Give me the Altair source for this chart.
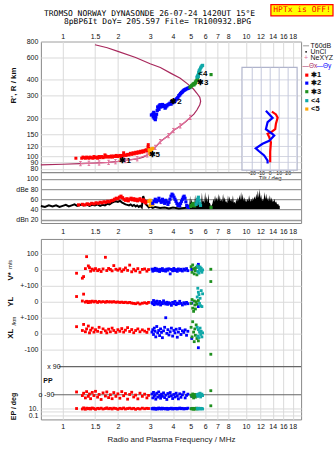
import altair as alt
import pandas as pd

# ---------------- data ----------------
FREQ_TICKS = [1, 1.5, 2, 3, 4, 5, 6, 7, 8, 10, 12, 14, 16, 18]
RANGE_TICKS = [80, 90, 100, 120, 150, 200, 300, 400, 600, 800]
DB_TICKS = [20, 40, 60, 80, 100]
TILT_TICKS = [-20, -10, 0, 10, 20]

TITLE1 = "TROMSO NORWAY   DYNASONDE 26-07-24 1420UT 15°E"
TITLE2 = "8pBP6It DoY= 205.597 File= TR100932.BPG"

# plasma-frequency profile (f MHz, height km)
PROFILE = [(0.76, 86), (1.0, 87), (1.25, 88), (1.5, 89), (1.78, 90), (2.0, 91.5), (2.3, 94),
           (2.55, 96), (2.75, 99), (2.89, 103), (3.05, 110), (3.2, 118), (3.41, 131), (3.6, 139),
           (3.78, 146), (4.02, 160), (4.2, 167), (4.38, 174), (4.7, 188), (4.97, 203), (5.2, 215),
           (5.4, 232), (5.6, 255), (5.66, 272), (5.6, 292), (5.4, 314), (5.17, 339), (4.8, 372),
           (4.38, 412), (3.9, 450), (3.41, 500), (3.0, 535), (2.5, 600), (2.0, 670), (1.75, 715),
           (1.5, 755)]
NEXYZ = [(1.25, 88), (1.39, 88.5), (1.58, 89), (1.78, 90), (1.94, 91), (2.2, 93), (2.55, 96),
         (2.89, 103), (3.2, 118), (3.41, 131), (3.78, 146), (4.02, 160), (4.38, 174), (4.97, 203)]

X1 = [(1.18, 97), (1.27, 97), (1.29, 99), (1.31, 98), (1.33, 97), (1.35, 99), (1.37, 98), (1.39, 97),
      (1.41, 99), (1.43, 98), (1.46, 97), (1.48, 100), (1.50, 98), (1.53, 99), (1.55, 97), (1.58, 100),
      (1.60, 98), (1.63, 100), (1.66, 98), (1.69, 99), (1.72, 101), (1.75, 99), (1.78, 100), (1.81, 99),
      (1.84, 101), (1.87, 99), (1.90, 101), (1.93, 100), (1.96, 102), (1.99, 100), (2.02, 101),
      (2.05, 102), (2.08, 100), (2.11, 102), (2.14, 101), (2.18, 103), (2.22, 102), (2.26, 104),
      (2.30, 103), (2.34, 106), (2.38, 104), (2.42, 107), (2.46, 105), (2.50, 108), (2.54, 106),
      (2.58, 109), (2.62, 107), (2.66, 110), (2.70, 108), (2.74, 111), (2.78, 109), (2.82, 112),
      (2.86, 113), (2.90, 111), (2.92, 119), (2.95, 116), (2.93, 124), (2.15, 107), (1.70, 103)]
X2 = [(3.05, 212), (3.10, 215), (3.12, 205), (3.14, 222), (3.16, 200), (3.18, 210), (3.20, 195),
      (3.22, 205), (3.25, 215), (3.28, 230), (3.30, 245), (3.33, 240), (3.35, 235), (3.36, 250),
      (3.40, 255), (3.43, 245), (3.46, 250), (3.50, 256), (3.55, 248), (3.60, 252), (3.62, 240),
      (3.65, 245), (3.70, 250), (3.75, 255), (3.80, 258), (3.85, 262), (3.90, 258), (3.92, 270),
      (3.95, 265), (4.00, 270), (4.05, 268), (4.10, 275), (4.15, 280), (4.20, 285), (4.25, 290),
      (4.30, 300), (4.35, 305), (4.40, 312), (4.45, 318), (4.50, 322), (4.55, 328), (4.60, 332),
      (4.65, 335), (4.70, 338), (4.78, 342), (4.85, 345), (4.92, 348)]
X3 = [(4.95, 350), (5.00, 355), (5.05, 360), (5.10, 365), (5.15, 370), (5.20, 365), (5.20, 375),
      (5.25, 372), (5.30, 378), (5.30, 385), (5.35, 392), (5.40, 398), (5.45, 405), (6.45, 440)]
X4 = [(5.40, 420), (5.45, 430), (5.50, 425), (5.50, 440), (5.52, 455), (5.55, 470), (5.60, 460),
      (5.60, 480), (5.65, 495), (5.70, 505), (5.75, 515), (5.80, 520)]
X5 = [(2.96, 113), (2.98, 108), (3.00, 104), (3.02, 112), (3.05, 110), (3.06, 115), (3.10, 116)]

MODE_LABELS = [("✱1", 2.04, 93), ("✱2", 3.86, 267), ("✱3", 5.40, 381), ("<4", 5.50, 444), ("✱5", 2.94, 103)]

# tilt inset (tilt deg, height km)
TILT_X = [(1.9, 225), (6.4, 214), (8.3, 202), (6.4, 181), (5.6, 164), (0.8, 155), (-2.9, 151),
          (-1.1, 142), (0.8, 129), (0.0, 109), (0.0, 90)]
TILT_Y = [(-4.8, 229), (2.7, 201), (-2.9, 186), (-4.8, 164), (2.7, 150), (4.5, 146), (-1.1, 133),
          (-8.5, 126), (-16.1, 116), (-12.4, 110), (-6.7, 102), (-2.9, 93), (-2.9, 88)]

# amplitude panel (f MHz, dB)
DB_LINE = [(0.76, 47), (0.80, 45), (0.84, 48), (0.88, 46), (0.92, 48), (0.96, 45), (1.00, 47),
           (1.04, 49), (1.08, 46), (1.12, 48), (1.16, 50), (1.20, 47), (1.25, 49), (1.30, 48),
           (1.35, 50), (1.40, 47), (1.45, 49), (1.50, 48), (1.55, 50), (1.60, 47), (1.65, 49),
           (1.70, 48), (1.75, 51), (1.80, 50), (1.85, 53), (1.90, 55), (1.95, 56), (2.00, 55),
           (2.05, 57), (2.10, 54), (2.15, 52), (2.20, 50), (2.25, 49), (2.30, 48), (2.35, 50),
           (2.40, 47), (2.45, 49), (2.50, 46), (2.55, 48), (2.60, 45), (2.65, 47), (2.70, 44),
           (2.75, 66), (2.80, 58), (2.85, 50), (2.90, 47), (2.95, 44), (3.00, 46), (3.10, 43),
           (3.20, 45), (3.40, 43), (3.60, 44), (3.80, 42), (4.00, 44), (4.30, 42), (4.60, 43),
           (4.90, 44)]
DB_FLOOR = 41
DB_BARS = [(4.86, 51), (4.90, 47), (4.96, 67), (5.00, 52), (5.06, 61), (5.10, 50), (5.17, 53),
           (5.22, 47), (5.28, 69), (5.33, 52), (5.40, 58), (5.45, 49), (5.50, 64), (5.56, 51),
           (5.63, 55), (5.69, 50), (5.75, 73), (5.80, 55), (5.86, 58), (5.92, 52), (5.99, 74),
           (6.05, 56), (6.11, 66), (6.17, 54), (6.24, 71), (6.30, 53), (6.37, 52), (6.43, 47),
           (6.50, 48), (6.57, 52), (6.64, 61), (6.71, 55), (6.78, 68), (6.85, 57), (6.92, 64),
           (6.99, 56), (7.06, 71), (7.13, 57), (7.20, 68), (7.27, 56), (7.35, 60), (7.42, 55),
           (7.50, 71), (7.58, 57), (7.66, 64), (7.74, 55), (7.82, 56), (7.90, 52), (7.98, 68),
           (8.06, 56), (8.15, 66), (8.23, 56), (8.32, 61), (8.40, 54), (8.49, 68), (8.58, 53),
           (8.67, 55), (8.76, 51), (8.85, 60), (8.94, 55), (9.03, 64), (9.12, 57), (9.22, 69),
           (9.31, 58), (9.41, 74), (9.50, 59), (9.60, 71), (9.70, 57), (9.80, 64), (9.90, 55),
           (10.0, 60), (10.1, 54), (10.2, 61), (10.3, 56), (10.4, 68), (10.55, 55), (10.7, 61),
           (10.8, 56), (10.9, 64), (11.0, 58), (11.1, 66), (11.25, 60), (11.4, 71), (11.5, 62),
           (11.6, 77), (11.75, 63), (11.9, 80), (12.0, 61), (12.1, 69), (12.25, 56), (12.4, 62),
           (12.5, 57), (12.6, 74), (12.75, 60), (12.9, 71), (13.05, 58), (13.2, 64), (13.35, 56),
           (13.5, 68), (13.65, 57), (13.8, 64), (13.9, 54), (14.0, 59), (14.15, 55), (14.3, 61),
           (14.45, 53), (14.6, 56), (14.8, 50), (15.0, 51), (15.15, 47), (15.3, 48)]
DB_RED = [(1.22, 49), (1.28, 50), (1.32, 49), (1.36, 51), (1.40, 50), (1.44, 52), (1.48, 51),
          (1.52, 53), (1.56, 52), (1.60, 54), (1.64, 53), (1.68, 55), (1.72, 54), (1.76, 56),
          (1.80, 55), (1.84, 57), (1.88, 58), (1.92, 60), (1.96, 62), (2.00, 61), (2.04, 64),
          (2.08, 66), (2.12, 63), (2.16, 60), (2.20, 58), (2.24, 61), (2.28, 57), (2.32, 60),
          (2.36, 62), (2.40, 59), (2.44, 61), (2.48, 58), (2.52, 60), (2.56, 57), (2.60, 59),
          (2.64, 61), (2.68, 58), (2.72, 56), (2.76, 59), (2.80, 55), (2.84, 53), (2.88, 56)]
DB_ORANGE = [(2.95, 56), (3.00, 58), (3.03, 54), (3.06, 52), (3.10, 50), (3.00, 48)]
DB_BLUE = [(3.10, 52), (3.15, 56), (3.20, 60), (3.25, 55), (3.30, 58), (3.35, 62), (3.40, 57),
           (3.45, 54), (3.50, 60), (3.55, 56), (3.60, 52), (3.65, 58), (3.70, 55), (3.75, 50),
           (3.80, 54), (3.85, 60), (3.90, 66), (3.95, 70), (4.00, 68), (4.05, 64), (4.10, 60),
           (4.15, 56), (4.20, 52), (4.25, 48), (4.30, 50), (4.35, 47), (4.40, 52), (4.45, 56),
           (4.50, 60), (4.55, 64), (4.60, 66), (4.65, 62), (4.70, 55), (4.75, 48), (4.80, 46),
           (4.85, 44)]
DB_GREEN = [(5.00, 46), (5.05, 48), (5.10, 50), (5.15, 52), (5.20, 49), (5.25, 47), (6.45, 44)]
DB_CYAN = [(5.35, 50), (5.40, 55), (5.45, 60), (5.50, 64), (5.55, 58), (5.60, 52), (5.65, 48)]

# lower panels: (f, V* m/s, YL km, XL km, PP deg, EP deg)
LOW_RED = [(1.19, -21, 33, 44, -72, 8), (1.28, -52, 5, 20, -95, 6), (1.30, -42, 48, 58, -80, 12),
           (1.33, 8, -2, 12, -110, 5), (1.35, 83, 3, 30, -70, 10), (1.38, 25, -5, 48, -100, 7),
           (1.40, 14, 2, 5, -85, 9), (1.42, -8, -3, 22, -115, 6), (1.45, 5, 4, 35, -75, 11),
           (1.48, -3, -1, 10, -95, 8), (1.51, 8, 3, 25, -68, 5), (1.55, -5, -4, 15, -105, 9),
           (1.58, 2, 2, 40, -88, 7), (1.62, -10, -2, 8, -120, 10), (1.66, 6, 1, 30, -78, 6),
           (1.71, 79, -3, 18, -98, 8), (1.74, -4, 2, 5, -72, 12), (1.78, 9, -1, 28, -108, 7),
           (1.82, 3, 0, 12, -90, 9), (1.86, -6, -2, 35, -115, 6), (1.90, 27, 1, 20, -76, 10),
           (1.95, 4, -3, 8, -100, 8), (2.00, -2, -1, 25, -84, 5), (2.05, 7, -4, 15, -112, 9),
           (2.10, -9, -2, 32, -70, 7), (2.15, 1, -5, 10, -96, 11), (2.20, 12, -3, 22, -82, 6),
           (2.26, -3, -6, 38, -118, 8), (2.32, 30, -4, 14, -88, 10), (2.38, -12, -8, 26, -74, 7),
           (2.44, 4, -10, 6, -104, 9), (2.50, -6, -12, 20, -92, 5), (2.57, 8, -7, 30, -116, 8),
           (2.64, -15, -14, 12, -80, 6), (2.72, 3, -9, 24, -100, 10), (2.80, 6, -6, 16, -86, 7),
           (2.88, -8, -10, 8, -110, 9), (2.94, 2, -4, 28, -94, 8)]
LOW_BLUE = [(3.07, 5, -5, 10, -85, 8), (3.10, -8, -12, 25, -110, 6), (3.13, 3, 8, -5, -75, 10),
            (3.16, -4, -18, 35, -100, 7), (3.19, 10, -2, 15, -90, 9), (3.22, -2, -10, -20, -118, 5),
            (3.26, 6, 4, 45, -80, 8), (3.30, -6, -15, 5, -105, 6), (3.34, 2, -8, 20, -72, 11),
            (3.38, -10, 2, -12, -95, 7), (3.42, 4, -20, 30, -112, 9), (3.46, -3, -5, 8, -86, 6),
            (3.50, 8, -12, -25, -100, 10), (3.55, -5, 6, 18, -78, 7), (3.60, 1, -8, 40, -108, 8),
            (3.65, -8, -14, 100, -92, 6), (3.70, 5, -3, 2, -120, 9), (3.75, -2, -16, 25, -82, 5),
            (3.80, 7, -6, -8, -102, 8), (3.86, -25, -10, 12, -76, 7), (3.92, 3, -22, 35, -96, 10),
            (3.98, -6, -4, -15, -114, 6), (4.04, 9, -12, 20, -88, 8), (4.10, -4, 2, 5, -104, 7),
            (4.16, 2, -18, 28, -80, 9), (4.22, -9, -8, -22, -98, 6), (4.28, 6, -12, 10, -116, 8),
            (4.35, -3, 3, 32, -84, 11), (4.42, 4, -10, -5, -106, 7), (4.50, -7, -20, 18, -90, 9),
            (4.58, 5, -6, 8, -74, 6), (4.66, -2, -14, 24, -110, 8), (4.74, 8, -4, -10, -94, 7),
            (4.82, -5, -12, 15, -86, 10), (5.06, 3, -8, -30, -100, 8), (5.50, 35, -30, -88, -90, 9)]
LOW_GREEN = [(5.02, 20, -10, 40, -92, 7), (5.08, -15, 14, -20, -100, 6), (5.12, 31, -40, 75, -85, 9),
             (5.18, 5, -60, 10, -110, 5), (5.22, -25, 5, -50, -95, 8), (5.26, 10, -20, 30, -88, 6),
             (5.30, -5, -45, -10, -105, 7), (5.35, 15, 0, 55, -92, 10), (5.40, -31, -15, -30, -98, 6),
             (5.50, 22, 8, -45, -90, 8), (6.43, 4, None, None, -64, 45), (6.43, -73, None, -129, None, None)]
LOW_CYAN = [(5.42, 25, 30, 40, -88, 8), (5.46, -10, 85, -15, -100, 6), (5.50, 15, 60, 25, -92, 9),
            (5.54, -20, 45, -25, -84, 7), (5.58, 5, -10, 10, -96, 8), (5.62, 18, 22, 35, -80, 6),
            (5.66, -5, -25, -5, -104, 9), (5.70, 10, 70, 15, -90, 7), (5.75, -15, -30, -20, -86, 8),
            (5.80, 0, 50, 5, -95, 6)]

# ---------------- styling ----------------
FONT = "Liberation Sans"
MONO = "DejaVu Sans Mono"
W = 261
HA, HB, HGAP, HC = 131, 51, 16, 181
RED, BLUE, GREEN, CYAN, ORANGE = "#ff0000", "#0000ff", "#1f8f1f", "#10a8a8", "#ffa500"
MAROON, PINK = "#a8285c", "#e0709a"

ONE = pd.DataFrame({"k": [0]})
xscale = alt.Scale(type="log", domain=[0.76, 20], nice=False)


def txt(text, x, y, size=7, color="#111", align="center", angle=0, weight="normal", font=FONT, baseline="middle"):
    kw = dict(text=text, fontSize=size, color=color, align=align, font=font, fontWeight=weight, baseline=baseline)
    if angle:
        kw["angle"] = angle
    return alt.Chart(ONE).mark_text(**kw).encode(x=alt.value(x), y=alt.value(y))


def df2(rows, a, b):
    d = pd.DataFrame(rows, columns=[a, b])
    d["i"] = range(len(d))
    return d


# ---------------- panel A : ionogram ----------------
ax = alt.X("f:Q", scale=xscale, axis=alt.Axis(orient="top", values=FREQ_TICKS, format="~g", grid=True,
                                               labelPadding=2, title=None))
ay = alt.Y("r:Q", scale=alt.Scale(type="log", domain=[75.4, 800], nice=False),
           axis=alt.Axis(values=RANGE_TICKS, grid=True, title=None, labelPadding=3))


def apts(rows, color, size=9):
    return alt.Chart(df2(rows, "f", "r")).mark_square(size=size, color=color, opacity=1).encode(x=ax, y=ay)


inset_box = alt.Chart(ONE).mark_rect(fill="white", stroke="#b0b4cc", strokeWidth=1.2).encode(
    x=alt.value(201.7), x2=alt.value(257), y=alt.value(26), y2=alt.value(129))
inset_h = alt.Chart(pd.DataFrame({"r": [90, 100, 120, 150, 200, 300, 400]})).mark_rule(
    color="#d4d6e2", strokeWidth=1).encode(x=alt.value(202), x2=alt.value(256.5), y=ay)

profile = alt.Chart(df2(PROFILE, "f", "r")).mark_line(color=MAROON, strokeWidth=1.2).encode(
    x=ax, y=ay, order="i:Q")
nexyz_line = alt.Chart(df2(NEXYZ, "f", "r")).mark_line(color=PINK, strokeWidth=1.2).encode(
    x=ax, y=ay, order="i:Q")
nexyz_pts = alt.Chart(df2(NEXYZ, "f", "r")).mark_point(
    shape="M -0.6 -1 L 0.6 -1 M 0 -1 L 0 1 M -0.6 1 L 0.6 1", size=18, color=PINK, strokeWidth=1,
    filled=False, opacity=1).encode(x=ax, y=ay)

mode_labels = alt.Chart(pd.DataFrame(MODE_LABELS, columns=["lab", "f", "r"])).mark_text(
    align="left", baseline="middle", fontSize=8, fontWeight="bold", color="#000", font=FONT).encode(
    x=ax, y=ay, text="lab:N")

legend_layers = [
    alt.Chart(ONE).mark_rule(color="#999", strokeWidth=1).encode(x=alt.value(263), x2=alt.value(269), y=alt.value(4.3)),
    txt("T60dB", 270.5, 4.3, align="left"),
    alt.Chart(ONE).mark_circle(size=3, color="#000", opacity=1).encode(x=alt.value(266), y=alt.value(10.3)),
    txt("UnCl", 270.5, 10.3, align="left"),
    txt("+", 266, 16.9, size=7, color=PINK),
    txt("NeXYZ", 270.5, 16.9, align="left"),
    txt("—Θx", 262.5, 24.3, color=MAROON, align="left", size=6.5),
    txt("—Θy", 276.5, 24.3, color=BLUE, align="left", size=6.5),
]
for k, (lab, col) in enumerate([("✱1", RED), ("✱2", BLUE), ("✱3", GREEN), ("<4", CYAN), ("<5", ORANGE)]):
    yy = [33.7, 41.7, 50.3, 59.3, 67.7][k]
    legend_layers.append(alt.Chart(ONE).mark_square(size=10, color=col, opacity=1).encode(
        x=alt.value(266.7), y=alt.value(yy)))
    legend_layers.append(txt(lab, 271, yy, size=7.5, align="left", weight="bold"))

header = [
    txt(TITLE1, 109, -27.5, size=8, font=MONO, color="#000"),
    txt(TITLE2, 117, -19.5, size=8, font=MONO, color="#000"),
    alt.Chart(ONE).mark_rect(fill="#ffff00", stroke="#ff0000", strokeWidth=1.2).encode(
        x=alt.value(230.7), x2=alt.value(293), y=alt.value(-37), y2=alt.value(-25.7)),
    txt("HPTx is OFF!", 262, -31.2, size=8, font=MONO, color="#ff0000"),
    txt("R', R / km", -27, 44, size=8, angle=270, weight="bold"),
]

main_a = alt.layer(
    profile, inset_box, inset_h, nexyz_line, nexyz_pts,
    apts(X1, RED), apts(X5, ORANGE), apts(X2, BLUE, 11), apts(X3, GREEN, 10), apts(X4, CYAN, 10),
    mode_labels, *legend_layers, *header,
)

tx = alt.X("t:Q", scale=alt.Scale(domain=[-20, 20], range=[212, 248], nice=False, zero=False), axis=None)
tilt_v = alt.Chart(pd.DataFrame({"t": TILT_TICKS})).mark_rule(color="#c4c8dc", strokeWidth=1).encode(
    x=tx, y=alt.value(26), y2=alt.value(129))
tilt_x = alt.Chart(df2(TILT_X, "t", "r")).mark_line(color=RED, strokeWidth=2.2).encode(x=tx, y=ay, order="i:Q")
tilt_y = alt.Chart(df2(TILT_Y, "t", "r")).mark_line(color=BLUE, strokeWidth=2.2).encode(x=tx, y=ay, order="i:Q")
tilt_lab = alt.Chart(pd.DataFrame({"t": TILT_TICKS, "lab": [str(v) for v in TILT_TICKS]})).mark_text(
    fontSize=5.2, color="#222", font=FONT, baseline="middle").encode(x=tx, y=alt.value(131.8), text="lab:N")
tilt_title = txt("Tilt / deg", 230, 137, size=6)
inset = alt.layer(tilt_v, tilt_x, tilt_y, tilt_lab, tilt_title)

A = alt.layer(main_a, inset).resolve_scale(x="independent").properties(width=W, height=HA)

# ---------------- panel B : amplitudes ----------------
bx = alt.X("f:Q", scale=xscale, axis=alt.Axis(orient="bottom", values=FREQ_TICKS, format="~g", grid=False,
                                               labelPadding=5, title=None))
by = alt.Y("v:Q", scale=alt.Scale(domain=[13.6, 113], nice=False, zero=False),
           axis=alt.Axis(values=DB_TICKS, grid=True, gridColor="#9a9a9a", gridWidth=1.3, title=None,
                         labelPadding=3,
                         labelExpr="datum.value == 80 ? 'dBe 80' : datum.value == 20 ? 'dBn 20' : datum.label"))

bars_df = df2(DB_BARS, "f", "v")
bars_df["base"] = DB_FLOOR
bars = alt.Chart(bars_df).mark_area(color="#000", opacity=1, interpolate="linear").encode(
    x=bx, y=by, y2=alt.Y2("base:Q"))
bline = alt.Chart(df2(DB_LINE, "f", "v")).mark_line(color="#000", strokeWidth=2).encode(
    x=bx, y=by, order="i:Q")


def bpts(rows, color):
    return alt.Chart(df2(rows, "f", "v")).mark_square(size=10, color=color, opacity=1).encode(x=bx, y=by)


B = alt.layer(bline, bars, bpts(DB_RED, RED), bpts(DB_ORANGE, ORANGE), bpts(DB_BLUE, BLUE),
              bpts(DB_GREEN, GREEN), bpts(DB_CYAN, CYAN)).properties(width=W, height=HB)

SP = alt.Chart(ONE).mark_point(opacity=0).encode(
    x=alt.X("k:Q", axis=None), y=alt.Y("k:Q", axis=None)).properties(
    width=W, height=HGAP, view=alt.ViewBackground(strokeWidth=0))

# ---------------- panel C : V*, YL, XL, PP, EP ----------------
recs = []
for cname, table in [("red", LOW_RED), ("blue", LOW_BLUE), ("green", LOW_GREEN), ("cyan", LOW_CYAN)]:
    for row in table:
        f = row[0]
        for panel, val in zip(["V", "YL", "XL", "PP", "EP"], row[1:]):
            if val is not None:
                recs.append({"f": f, "c": cname, "p": panel, "val": val})
low = pd.DataFrame(recs)

YCALC = ("datum.p == 'V' ? datum.val + 400 : datum.p == 'YL' ? datum.val + 200 : datum.p == 'XL' ? datum.val : "
         "datum.p == 'PP' ? -383 + (datum.val + 90) * 0.983 : -467 + 22.75 * log(datum.val / 10) / LN10")

cx = alt.X("f:Q", scale=xscale, axis=alt.Axis(orient="bottom", values=FREQ_TICKS, format="~g", grid=True,
                                               labelPadding=3, title="Radio and Plasma Frequency / MHz",
                                               titleFontSize=8, titleFontWeight="normal", titlePadding=6))
CVALS = [500, 400, 300, 200, 100, 0, -100, -467, -489, -512]
cy = alt.Y("y:Q", scale=alt.Scale(domain=[-537.5, 594], nice=False, zero=False),
           axis=alt.Axis(values=CVALS, grid=True, title=None, labelPadding=3,
                         labelExpr=("datum.value == 500 ? '100' : datum.value == 400 ? '0' : datum.value == 300 ? '+-100' : "
                                    "datum.value == 200 ? '0' : datum.value == 100 ? '+-100' : datum.value == 0 ? '0' : "
                                    "datum.value == -100 ? '-100' : datum.value == -467 ? '10.' : "
                                    "datum.value == -512 ? '0.1' : ''")))

lowpts = alt.Chart(low).transform_calculate(y=YCALC).mark_square(size=8, opacity=1).encode(
    x=cx, y=cy,
    color=alt.Color("c:N", scale=alt.Scale(domain=["red", "blue", "green", "cyan"],
                                           range=[RED, BLUE, GREEN, CYAN]), legend=None))

pp_lines = alt.Chart(pd.DataFrame({"p": ["PP", "PP"], "val": [90, -90], "x0": [18, 12]})).transform_calculate(
    y=YCALC).mark_rule(color="#666", strokeWidth=1.2).encode(
    y=cy, x=alt.X("x0:Q", scale=None), x2=alt.value(W))

c_text = [
    txt("V*", -30, 37.5, size=8, angle=270, weight="bold"),
    txt("m/s", -30.5, 25.5, size=5.5, angle=270),
    txt("YL", -30, 63, size=8, angle=270, weight="bold"),
    txt("/km", -27, 82.5, size=5.5, angle=270),
    txt("XL", -30, 95, size=8, angle=270, weight="bold"),
    txt("x  90", 6.5, 128, size=7, align="left"),
    txt("PP", 2.5, 142, size=7, align="left", weight="bold"),
    txt("o -90", -2.5, 156.3, size=7, align="left"),
    txt("EP / deg", -27, 168, size=7, angle=270, weight="bold"),
]

C = alt.layer(pp_lines, lowpts, *c_text).properties(width=W, height=HC)

chart = alt.vconcat(A, B, SP, C, spacing=0, bounds="flush").resolve_scale(
    x="independent", y="independent", color="independent").properties(
    padding={"left": 6, "top": 2, "right": 0, "bottom": 0})

chart = chart.configure(font=FONT).configure_axis(
    labelFont=FONT, labelFontSize=7, labelColor="#111", tickSize=0, domain=False, labelOverlap=False,
    gridColor="#dadada", gridWidth=1, titleFont=FONT, titleColor="#222").configure_view(
    stroke="#888", strokeWidth=1)

chart.save("out.html", embed_options={"renderer": "svg", "actions": False})
